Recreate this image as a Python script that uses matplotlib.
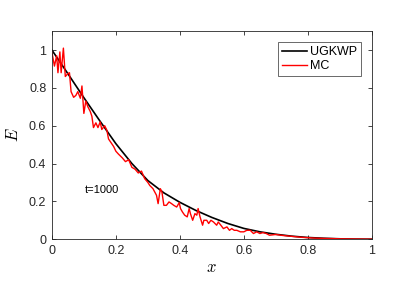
import numpy as np
import matplotlib
matplotlib.use("Agg")
import matplotlib.pyplot as plt

plt.rcParams['font.family'] = ['Liberation Sans', 'DejaVu Sans']
plt.rcParams['mathtext.fontset'] = 'cm'

# UGKWP reference curve
x_ugkwp = [0.0, 0.05, 0.10, 0.15, 0.20, 0.25, 0.30, 0.35, 0.40, 0.45, 0.50,
           0.55, 0.60, 0.65, 0.70, 0.75, 0.80, 0.85, 0.90, 0.95, 1.0]
e_ugkwp = [1.0, 0.875, 0.748, 0.625, 0.505, 0.40, 0.31, 0.245, 0.195, 0.152, 0.115,
           0.083, 0.057, 0.039, 0.026, 0.016, 0.009, 0.005, 0.002, 0.0006, 0.0]

# MC samples
x_mc = [0.0, 0.008, 0.015, 0.019, 0.025, 0.029, 0.036, 0.042, 0.050, 0.055,
        0.060, 0.068, 0.075, 0.081, 0.089, 0.094, 0.100, 0.106, 0.1125, 0.120,
        0.125, 0.130, 0.1375, 0.144, 0.151, 0.156, 0.165, 0.172, 0.177, 0.185,
        0.193, 0.200, 0.208, 0.214, 0.220, 0.230, 0.240, 0.250, 0.260, 0.270,
        0.280, 0.290, 0.300, 0.306, 0.316, 0.327, 0.332, 0.339, 0.344, 0.350,
        0.358, 0.366, 0.374, 0.381, 0.390, 0.398, 0.402, 0.408, 0.415, 0.423,
        0.429, 0.433, 0.440, 0.447, 0.453, 0.457, 0.463, 0.471, 0.475, 0.484,
        0.490, 0.497, 0.505, 0.515, 0.520, 0.528, 0.536, 0.547, 0.555, 0.562,
        0.570, 0.578, 0.589, 0.600, 0.609, 0.620, 0.630, 0.640, 0.650, 0.660,
        0.670, 0.680, 0.700, 0.720, 0.750, 0.780, 0.800, 0.820, 0.850, 0.880,
        0.900, 0.950, 1.0]
e_mc = [0.99, 0.915, 0.97, 0.88, 0.99, 0.88, 1.01, 0.86, 0.875, 0.88,
        0.78, 0.75, 0.76, 0.78, 0.745, 0.81, 0.665, 0.73, 0.70, 0.675,
        0.65, 0.59, 0.615, 0.59, 0.62, 0.58, 0.60, 0.575, 0.53, 0.51,
        0.49, 0.465, 0.45, 0.44, 0.43, 0.41, 0.42, 0.38, 0.37, 0.35,
        0.36, 0.32, 0.30, 0.284, 0.267, 0.232, 0.188, 0.267, 0.249, 0.179,
        0.179, 0.197, 0.188, 0.179, 0.17, 0.193, 0.162, 0.144, 0.127, 0.118,
        0.162, 0.135, 0.10, 0.135, 0.127, 0.162, 0.118, 0.074, 0.10, 0.10,
        0.083, 0.10, 0.091, 0.074, 0.091, 0.074, 0.056, 0.065, 0.047, 0.056,
        0.047, 0.047, 0.039, 0.039, 0.047, 0.047, 0.030, 0.039, 0.030, 0.035,
        0.030, 0.021, 0.025, 0.020, 0.015, 0.010, 0.008, 0.006, 0.004, 0.003,
        0.002, 0.001, 0.0]

xticks = [0, 0.2, 0.4, 0.6, 0.8, 1]
yticks = [0, 0.2, 0.4, 0.6, 0.8, 1]

fig = plt.figure(figsize=(3.99, 2.99), dpi=100)
ax = fig.add_axes([0.130, 0.200, 0.802, 0.696])

ax.plot(x_ugkwp, e_ugkwp, color='black', lw=1.2, label='UGKWP')
ax.plot(x_mc, e_mc, color='red', lw=1.0, label='MC')

ax.set_xlim(0, 1)
ax.set_ylim(0, 1.1)
ax.set_xticks(xticks)
ax.set_xticklabels(['0', '0.2', '0.4', '0.6', '0.8', '1'])
ax.set_yticks(yticks)
ax.set_yticklabels(['0', '0.2', '0.4', '0.6', '0.8', '1'])
ax.tick_params(direction='in', top=True, right=True, length=3, width=0.6,
               labelsize=9, colors='#262626', pad=4)
for s in ax.spines.values():
    s.set_linewidth(0.6)
    s.set_color('#262626')

ax.set_xlabel('$x$', fontsize=12, labelpad=2)
ax.set_ylabel('$E$', fontsize=12, labelpad=6)

ax.text(0.103, 0.26, 't=1000', fontsize=8, ha='left', va='center')

leg = ax.legend(loc='upper right', fontsize=9, frameon=True, fancybox=False,
                edgecolor='#262626', handlelength=2.0, handletextpad=0.2,
                borderpad=0.3, labelspacing=0.15, borderaxespad=0.9)
leg.get_frame().set_linewidth(0.6)

fig.savefig('out.png', dpi=100)
